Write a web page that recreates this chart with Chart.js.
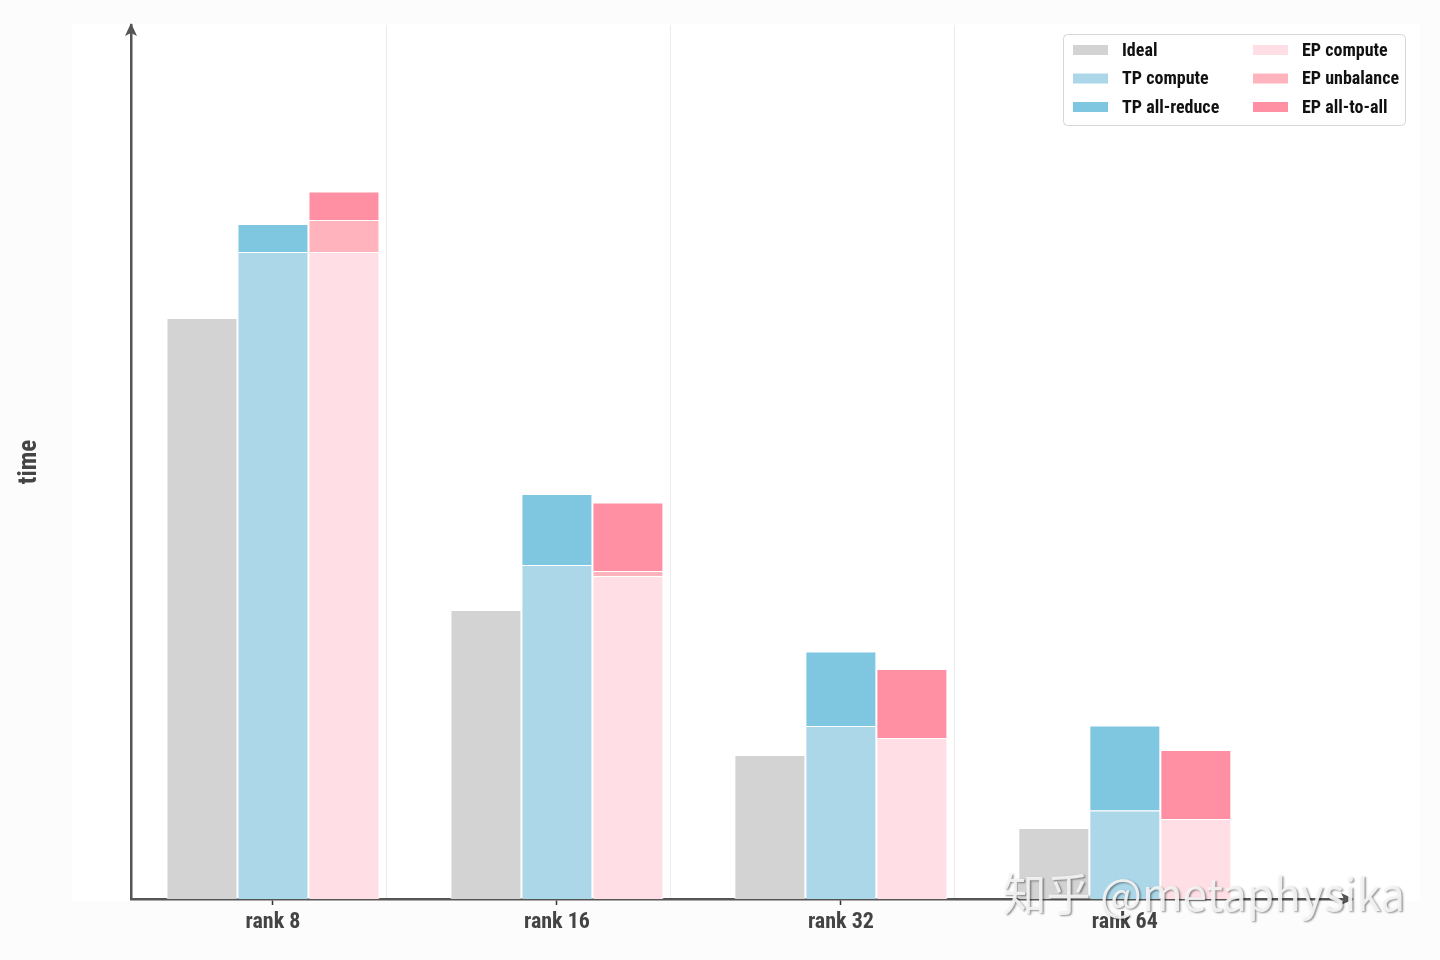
<!DOCTYPE html>
<html><head><meta charset="utf-8">
<script src="https://cdn.jsdelivr.net/npm/chart.js@4.4.1/dist/chart.umd.min.js"></script>
<style>html,body{margin:0;padding:0;background:#fcfcfc;} canvas{display:block;}</style>
</head><body>
<canvas id="c" width="1440" height="960"></canvas>
<script>
const categories = ['rank 8', 'rank 16', 'rank 32', 'rank 64'];
const ideal       = [58.1, 28.9, 14.4, 7.1];
const tpCompute   = [64.7, 33.4, 17.3, 8.85];
const tpAllReduce = [2.8, 7.1, 7.45, 8.5];
const epCompute   = [64.7, 32.3, 16.1, 8.0];
const epUnbalance = [3.2, 0.5, 0, 0];
const epAllToAll  = [2.85, 6.85, 6.9, 6.9];
const seriesLabels = ['Ideal', 'TP compute', 'TP all-reduce', 'EP compute', 'EP unbalance', 'EP all-to-all'];
const yAxisTitle = 'time';
const watermark = '知乎 @metaphysika';

const FONT = "'Roboto Condensed','Roboto',sans-serif";
const toPoints = arr => arr.map((v, i) => ({x: i, y: v}));
function ds(label, arr, color, stack) {
  return {label, data: toPoints(arr), backgroundColor: color, borderColor: '#ffffff',
          borderWidth: 1, borderSkipped: 'start', stack};
}

const bgPlugin = {
  id: 'bg',
  beforeDraw(chart) {
    const {ctx, chartArea: ca} = chart;
    ctx.save();
    ctx.fillStyle = '#fcfcfc';
    ctx.fillRect(0, 0, chart.width, chart.height);
    ctx.fillStyle = '#ffffff';
    ctx.fillRect(ca.left - 59, ca.top - 1, chart.width - 20 - (ca.left - 59), ca.bottom - ca.top + 3);
    ctx.restore();
  }
};

const decoPlugin = {
  id: 'deco',
  afterDraw(chart) {
    const {ctx, chartArea: ca} = chart;
    ctx.save();
    // axis arrow heads
    ctx.fillStyle = '#555555';
    ctx.beginPath();
    ctx.moveTo(ca.left, ca.top - 2);
    ctx.lineTo(ca.left - 6, ca.top + 11);
    ctx.lineTo(ca.left, ca.top + 8);
    ctx.lineTo(ca.left + 6, ca.top + 11);
    ctx.closePath(); ctx.fill();
    ctx.beginPath();
    ctx.moveTo(ca.right + 2, ca.bottom);
    ctx.lineTo(ca.right - 11, ca.bottom - 6);
    ctx.lineTo(ca.right - 8, ca.bottom);
    ctx.lineTo(ca.right - 11, ca.bottom + 6);
    ctx.closePath(); ctx.fill();

    // legend (two columns, three rows)
    const items = chart.data.datasets.map(d => ({text: d.label, color: d.backgroundColor}));
    const rows = 3;
    const boxW = 342, boxH = 91;
    const x0 = chart.width - 35 - boxW, y0 = ca.top + 9;
    ctx.beginPath();
    ctx.roundRect(x0 + 0.5, y0 + 0.5, boxW, boxH, 4);
    ctx.fillStyle = 'rgba(255,255,255,0.9)';
    ctx.fill();
    ctx.strokeStyle = '#d6d6d6';
    ctx.lineWidth = 1;
    ctx.stroke();
    ctx.font = `bold 18px ${FONT}`;
    ctx.textBaseline = 'middle';
    ctx.textAlign = 'left';
    items.forEach((it, i) => {
      const c = Math.floor(i / rows), r = i % rows;
      const sx = x0 + 10 + c * 180, cy = y0 + 16 + r * 28.5;
      ctx.fillStyle = it.color;
      ctx.fillRect(sx, cy - 5, 35, 10);
      ctx.fillStyle = '#111111';
      ctx.fillText(it.text, sx + 49, cy + 1);
    });

    // watermark
    ctx.font = "44px 'Noto Sans CJK SC'";
    ctx.textAlign = 'right';
    ctx.textBaseline = 'middle';
    ctx.shadowColor = 'rgba(0,0,0,0.45)';
    ctx.shadowOffsetX = 1.5; ctx.shadowOffsetY = 1.5; ctx.shadowBlur = 2;
    ctx.fillStyle = 'rgba(245,245,245,0.92)';
    ctx.fillText(watermark, chart.width - 35, ca.bottom - 5);
    ctx.restore();
  }
};

const X_MIN = -0.5, X_MAX = 3.8;
new Chart(document.getElementById('c'), {
  type: 'bar',
  data: {
    datasets: [
      ds(seriesLabels[0], ideal, '#d3d3d3', 'ideal'),
      ds(seriesLabels[1], tpCompute, '#abd7e9', 'tp'),
      ds(seriesLabels[2], tpAllReduce, '#7fc6e1', 'tp'),
      ds(seriesLabels[3], epCompute, '#ffdfe5', 'ep'),
      ds(seriesLabels[4], epUnbalance, '#ffb3bc', 'ep'),
      ds(seriesLabels[5], epAllToAll, '#ff8fa2', 'ep')
    ]
  },
  options: {
    responsive: false,
    animation: false,
    devicePixelRatio: 1,
    categoryPercentage: 0.75,
    barPercentage: 1,
    layout: {padding: {top: 25, right: 88, bottom: 0, left: 0}},
    plugins: {legend: {display: false}, tooltip: {enabled: false}},
    scales: {
      x: {
        type: 'linear', min: X_MIN, max: X_MAX, position: 'bottom', offset: false,
        afterBuildTicks: s => { s.ticks = categories.map((c, i) => ({value: i})); },
        afterFit: s => { s.height = 61; },
        ticks: {
          autoSkip: false, maxRotation: 0, padding: 4,
          callback: v => categories[v] ?? '',
          font: {family: FONT, size: 22, weight: 'bold'}, color: '#444444'
        },
        grid: {display: true, offset: false, drawOnChartArea: false, drawTicks: true, tickLength: 6, tickColor: '#333333', tickWidth: 1.5},
        border: {display: true, color: '#555555', width: 2.5}
      },
      xg: {
        type: 'linear', min: X_MIN, max: X_MAX, position: 'bottom', offset: false,
        afterBuildTicks: s => { s.ticks = [0.4, 1.4, 2.4].map(v => ({value: v})); },
        afterFit: s => { s.height = 0; },
        ticks: {display: false},
        grid: {display: true, offset: false, drawTicks: false, color: '#ececec', lineWidth: 1},
        border: {display: false}
      },
      y: {
        stacked: true, min: 0, max: 87.4,
        afterFit: s => { s.width = 131; },
        ticks: {display: false},
        grid: {display: false},
        border: {display: true, color: '#555555', width: 2.5},
        title: {display: true, text: yAxisTitle, color: '#444444',
                font: {family: FONT, size: 25, weight: 'bold'}, padding: {top: 15}}
      }
    }
  },
  plugins: [bgPlugin, decoPlugin]
});
</script>
</body></html>
